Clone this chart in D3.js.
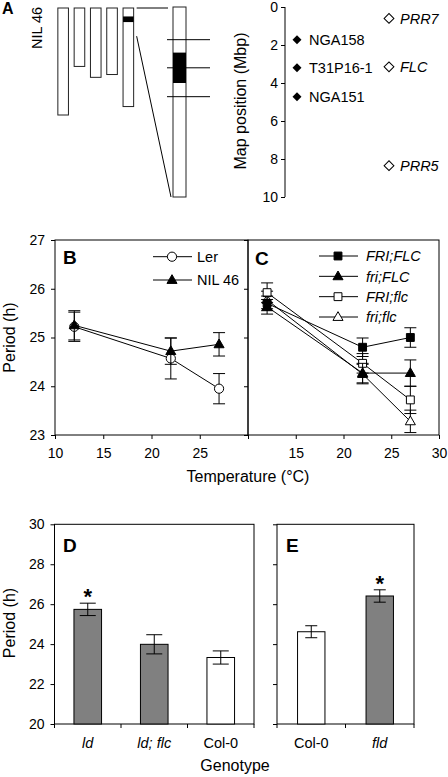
<!DOCTYPE html>
<html><head><meta charset="utf-8">
<script src="https://cdn.jsdelivr.net/npm/d3@7"></script>
<style>body{margin:0;background:#fff}svg text{font-family:"Liberation Sans",Arial,sans-serif;fill:#000}</style>
</head><body><svg id="c" width="448" height="777"></svg>
<script>
// ---------- Panel A data ----------
const chromosomes = ["1", "2", "3", "4", "5"];
const chromLengths = [30.4, 16.6, 19.7, 18.9, 28.0];
const introgression = [2.4, 4.0];
const mapTicks = [0, 2, 4, 6, 8, 10];
const markers = ["NGA158", "T31P16-1", "NGA151"];
const markerPos = [1.72, 3.2, 4.72];
const genes = ["PRR7", "FLC", "PRR5"];
const genePos = [0.6, 3.15, 8.35];
// ---------- Panel B/C data ----------
const temps = [12, 22, 27];
const tempTicks = [10, 15, 20, 25, 30];
const periodTicks = [23, 24, 25, 26, 27];
const bSeries = ["Ler", "NIL 46"];
const bMeans = [[25.22, 24.57, 23.95], [25.25, 24.72, 24.86]];
const bErr = [[0.3, 0.42, 0.31], [0.3, 0.27, 0.24]];
const cSeries = ["FRI;FLC", "fri;FLC", "FRI;flc", "fri;flc"];
const cMeans = [[25.7, 24.8, 25.0], [25.63, 24.27, 24.27], [25.92, 24.47, 23.72], [25.77, 24.25, 23.28]];
const cErr = [[0.15, 0.19, 0.2], [0.15, 0.2, 0.27], [0.2, 0.2, 0.28], [0.18, 0.2, 0.23]];
// ---------- Panel D/E data ----------
const barTicks = [20, 22, 24, 26, 28, 30];
const dGenotypes = ["ld", "ld; flc", "Col-0"];
const dMeans = [25.74, 23.99, 23.33];
const dErr = [0.31, 0.48, 0.33];
const dSig = [true, false, false];
const eGenotypes = ["Col-0", "fld"];
const eMeans = [24.62, 26.41];
const eErr = [0.3, 0.31];
const eSig = [false, true];

const svg = d3.select("#c");
const FS = 14;

function styleAxis(g, labels = true) {
  g.select(".domain").remove();
  g.attr("font-size", null).attr("font-family", null);
  g.selectAll("line").attr("stroke", "#000").attr("stroke-width", 1);
  g.selectAll("text").style("font-size", FS + "px").attr("fill", "#000");
  if (!labels) g.selectAll("text").remove();
}
function frame(x0, x1, y0, y1) {
  svg.append("rect").attr("x", x0).attr("y", y0).attr("width", x1 - x0).attr("height", y1 - y0)
    .attr("fill", "none").attr("stroke", "#000").attr("stroke-width", 1);
}
function letter(t, x, y, size) {
  svg.append("text").attr("x", x).attr("y", y).text(t).style("font-size", size + "px").style("font-weight", "bold");
}

// ================= Panel A =================
const chrX = d3.scaleBand().domain(chromosomes).range([55, 136.5]).paddingInner(0.35).paddingOuter(0.175);
const chrY = d3.scaleLinear().domain([0, 30.4]).range([8, 115]);
const mapY = d3.scaleLinear().domain([0, 10]).range([7, 197]);

const gA = svg.append("g");
chromosomes.forEach((c, i) => {
  gA.append("rect").attr("x", chrX(c)).attr("y", chrY(0)).attr("width", chrX.bandwidth())
    .attr("height", chrY(chromLengths[i]) - chrY(0)).attr("fill", "#fff").attr("stroke", "#222").attr("stroke-width", 1);
});
gA.append("rect").attr("x", chrX("5")).attr("y", chrY(introgression[0])).attr("width", chrX.bandwidth())
  .attr("height", chrY(introgression[1]) - chrY(introgression[0])).attr("fill", "#000");

const zx = 173, zw = 13;
gA.append("line").attr("x1", chrX("5") + chrX.bandwidth() + 3).attr("x2", zx - 5)
  .attr("y1", chrY(0)).attr("y2", chrY(0)).attr("stroke", "#000");
gA.append("line").attr("x1", chrX("5") + chrX.bandwidth() + 3).attr("x2", zx - 2)
  .attr("y1", chrY(8)).attr("y2", mapY(10)).attr("stroke", "#000");
gA.append("rect").attr("x", zx).attr("y", mapY(0)).attr("width", zw).attr("height", mapY(10) - mapY(0))
  .attr("fill", "#fff").attr("stroke", "#222");
gA.append("rect").attr("x", zx).attr("y", mapY(introgression[0])).attr("width", zw)
  .attr("height", mapY(introgression[1]) - mapY(introgression[0])).attr("fill", "#000");
markerPos.forEach(p => {
  gA.append("line").attr("x1", zx - 6).attr("x2", zx + zw + 24).attr("y1", mapY(p)).attr("y2", mapY(p)).attr("stroke", "#000");
});

svg.append("text").attr("transform", "translate(42,28) rotate(-90)").attr("text-anchor", "middle")
  .style("font-size", "14.5px").text("NIL 46");

const axA = svg.append("g").attr("transform", "translate(285,0)")
  .call(d3.axisLeft(mapY).tickValues(mapTicks).tickSize(4).tickPadding(3));
axA.attr("font-size", null).attr("font-family", null);
axA.select(".domain").attr("stroke", "#000").attr("d", `M0,${mapY(0)}V${mapY(10)}`);
axA.selectAll("line").attr("stroke", "#000");
axA.selectAll("text").style("font-size", "14px").attr("fill", "#000");
svg.append("text").attr("transform", "translate(245.5,101) rotate(-90)").attr("text-anchor", "middle")
  .style("font-size", "16px").text("Map position (Mbp)");

const diamond = d3.symbol().type(d3.symbolSquare);
markers.forEach((m, i) => {
  svg.append("path").attr("d", diamond.size(40)()).attr("transform", `translate(297,${mapY(markerPos[i])}) rotate(45)`)
    .attr("fill", "#000");
  svg.append("text").attr("x", 309).attr("y", mapY(markerPos[i])).attr("dy", "0.36em")
    .style("font-size", "14.5px").text(m);
});
genes.forEach((g, i) => {
  svg.append("path").attr("d", diamond.size(48)()).attr("transform", `translate(389,${mapY(genePos[i])}) rotate(45)`)
    .attr("fill", "#fff").attr("stroke", "#000");
  svg.append("text").attr("x", 400).attr("y", mapY(genePos[i])).attr("dy", "0.36em")
    .style("font-size", "14.5px").style("font-style", "italic").text(g);
});
letter("A", 2, 14, 16);

// ================= Panels B & C =================
const xB = d3.scaleLinear().domain([10, 30]).range([55, 248]);
const xC = d3.scaleLinear().domain([10, 30]).range([248, 439]);
const yT = d3.scaleLinear().domain([23, 27]).range([435, 240]);

frame(55, 248, 240, 435);
frame(248, 439, 240, 435);
styleAxis(svg.append("g").attr("transform", "translate(55,0)")
  .call(d3.axisLeft(yT).tickValues(periodTicks).tickSize(4).tickPadding(6).tickFormat(d3.format("d"))));
styleAxis(svg.append("g").attr("transform", "translate(248,0)")
  .call(d3.axisLeft(yT).tickValues(periodTicks).tickSize(4)), false);
styleAxis(svg.append("g").attr("transform", "translate(0,435)")
  .call(d3.axisBottom(xB).tickValues(tempTicks).tickSize(4).tickPadding(9).tickFormat(d => d === 30 ? "" : d)));
styleAxis(svg.append("g").attr("transform", "translate(0,435)")
  .call(d3.axisBottom(xC).tickValues(tempTicks).tickSize(4).tickPadding(9).tickFormat(d => d === 10 ? "" : d)));

const tri = d3.symbol().type(d3.symbolTriangle).size(44);
const sq = d3.symbol().type(d3.symbolSquare).size(62);
function drawMarker(g, kind, x, y) {
  if (kind === "circle") g.append("circle").attr("cx", x).attr("cy", y).attr("r", 4.6).attr("fill", "#fff").attr("stroke", "#000");
  else {
    const [shape, fill] = kind.split("-");
    g.append("path").attr("d", shape === "tri" ? tri() : sq()).attr("transform", `translate(${x},${y + (shape === "tri" ? 0.5 : 0)})`)
      .attr("fill", fill === "f" ? "#000" : "#fff").attr("stroke", "#000");
  }
}
function drawSeries(g, xs, means, errs, kind) {
  means.forEach((m, i) => {
    const x = xs(temps[i]);
    g.append("line").attr("x1", x).attr("x2", x).attr("y1", yT(m - errs[i])).attr("y2", yT(m + errs[i])).attr("stroke", "#000");
    [m - errs[i], m + errs[i]].forEach(v => g.append("line").attr("x1", x - 6).attr("x2", x + 6)
      .attr("y1", yT(v)).attr("y2", yT(v)).attr("stroke", "#000"));
  });
  g.append("path").datum(means).attr("fill", "none").attr("stroke", "#000").attr("stroke-width", 1)
    .attr("d", d3.line().x((d, i) => xs(temps[i])).y(d => yT(d)));
  means.forEach((m, i) => drawMarker(g, kind, xs(temps[i]), yT(m)));
}
const bKinds = ["circle", "tri-f"];
const cKinds = ["sq-f", "tri-f", "sq-o", "tri-o"];
const gB = svg.append("g"), gC = svg.append("g");
bSeries.forEach((s, i) => drawSeries(gB, xB, bMeans[i], bErr[i], bKinds[i]));
[3, 2, 1, 0].forEach(i => drawSeries(gC, xC, cMeans[i], cErr[i], cKinds[i]));

// legends
const legBY = d3.scalePoint().domain(bSeries).range([256.7, 280]);
bSeries.forEach((s, i) => {
  const y = legBY(s);
  svg.append("line").attr("x1", 153).attr("x2", 192).attr("y1", y).attr("y2", y).attr("stroke", "#000");
  drawMarker(svg, bKinds[i], 172, y);
  svg.append("text").attr("x", 197).attr("y", y).attr("dy", "0.36em").style("font-size", "14.5px").text(s);
});
const legCY = d3.scalePoint().domain(cSeries).range([256, 317]);
cSeries.forEach((s, i) => {
  const y = legCY(s);
  svg.append("line").attr("x1", 319).attr("x2", 358).attr("y1", y).attr("y2", y).attr("stroke", "#000");
  drawMarker(svg, cKinds[i], 338, y);
  svg.append("text").attr("x", 366).attr("y", y).attr("dy", "0.36em").style("font-size", "14.5px")
    .style("font-style", "italic").text(s);
});
letter("B", 63, 264, 19);
letter("C", 255, 265, 19);
svg.append("text").attr("transform", "translate(15,337.5) rotate(-90)").attr("text-anchor", "middle")
  .style("font-size", "16px").text("Period (h)");
svg.append("text").attr("x", 248).attr("y", 482).attr("text-anchor", "middle")
  .style("font-size", "16px").text("Temperature (°C)");

// ================= Panels D & E =================
const yP = d3.scaleLinear().domain([20, 30]).range([724, 524.3]);
const xD = d3.scaleBand().domain(dGenotypes).range([54.5, 254]).paddingInner(0.585).paddingOuter(0.2925);
const xE = d3.scaleBand().domain(eGenotypes).range([277, 414]).paddingInner(0.6).paddingOuter(0.3);

function barPanel(xs, genos, means, errs, sig, x0, x1, labels, capHW) {
  frame(x0, x1, yP(30), yP(20));
  styleAxis(svg.append("g").attr("transform", `translate(${x0},0)`)
    .call(d3.axisLeft(yP).tickValues(barTicks).tickSize(4).tickPadding(6)), labels);
  const gap = (xs.step() - xs.bandwidth()) / 2;
  const bounds = genos.map(g => xs(g) - gap).concat([xs(genos[genos.length - 1]) + xs.bandwidth() + gap]);
  bounds.forEach(b => svg.append("line").attr("x1", b).attr("x2", b).attr("y1", yP(20)).attr("y2", yP(20) + 4).attr("stroke", "#000"));
  genos.forEach((g, i) => {
    const cx = xs(g) + xs.bandwidth() / 2;
    svg.append("rect").attr("x", xs(g)).attr("y", yP(means[i])).attr("width", xs.bandwidth())
      .attr("height", yP(20) - yP(means[i])).attr("fill", g === "Col-0" ? "#fff" : "#808080").attr("stroke", "#000");
    svg.append("line").attr("x1", cx).attr("x2", cx).attr("y1", yP(means[i] - errs[i])).attr("y2", yP(means[i] + errs[i])).attr("stroke", "#000");
    [means[i] - errs[i], means[i] + errs[i]].forEach(v => svg.append("line").attr("x1", cx - capHW).attr("x2", cx + capHW)
      .attr("y1", yP(v)).attr("y2", yP(v)).attr("stroke", "#000"));
    if (sig[i]) svg.append("text").attr("x", cx).attr("y", yP(means[i] + errs[i]) + 1).attr("text-anchor", "middle")
      .style("font-size", "22px").style("font-weight", "bold").text("*");
    svg.append("text").attr("x", cx).attr("y", 748).attr("text-anchor", "middle").style("font-size", "14.5px")
      .style("font-style", g === "Col-0" ? "normal" : "italic").text(g);
  });
}
barPanel(xD, dGenotypes, dMeans, dErr, dSig, 54.5, 254, true, 8);
barPanel(xE, eGenotypes, eMeans, eErr, eSig, 277, 414, false, 6);
letter("D", 63, 551.5, 19);
letter("E", 286, 551.5, 19);
svg.append("text").attr("transform", "translate(15,623) rotate(-90)").attr("text-anchor", "middle")
  .style("font-size", "16px").text("Period (h)");
svg.append("text").attr("x", 235).attr("y", 771).attr("text-anchor", "middle")
  .style("font-size", "16px").text("Genotype");
</script></body></html>
